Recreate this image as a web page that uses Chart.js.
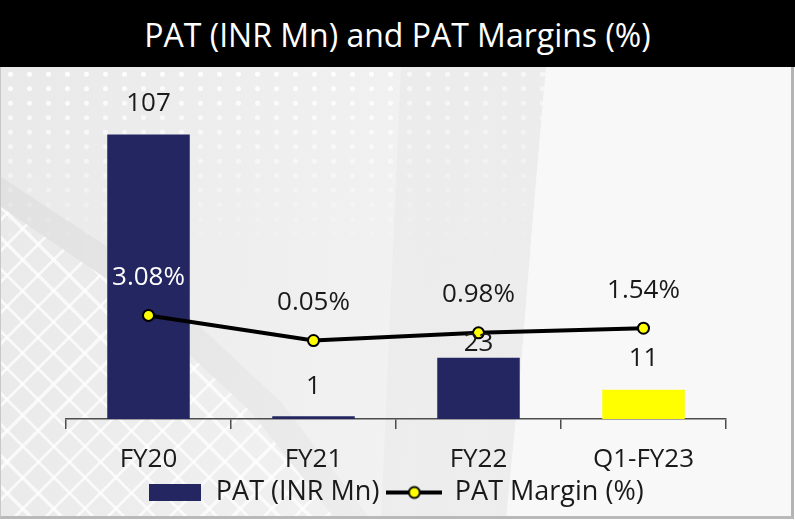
<!DOCTYPE html>
<html>
<head>
<meta charset="utf-8">
<script src="https://cdn.jsdelivr.net/npm/chart.js@4.4.1/dist/chart.umd.min.js"></script>
<style>
  html, body { margin: 0; padding: 0; background: #fff; }
  #page { position: relative; width: 795px; height: 520px; overflow: hidden; font-family: "Open Sans", sans-serif; }
  #title {
    position: absolute; left: 0; top: 0; width: 795px; height: 67px;
    background: #000; color: #fff; font-size: 32px; line-height: 70px; text-align: center;
  }
  #wrap {
    position: absolute; left: 0; top: 67px; width: 790px; height: 449px;
    border-left: 1px solid #c8c8c8; border-right: 3px solid #b4b4b4; border-bottom: 3px solid #b9b9b9;
    background: linear-gradient(100deg, #e9e9e9 0%, #efefef 35%, #f3f3f3 60%, #f7f7f7 100%);
    overflow: hidden;
  }
  .layer { position: absolute; left: 0; top: 0; width: 100%; height: 100%; }
  #dots {
    height: 200px;
    background-image: radial-gradient(circle, rgba(255,255,255,0.9) 0 2.2px, transparent 2.9px);
    background-size: 19px 14.5px;
    -webkit-mask-image: linear-gradient(to bottom, #000 0%, rgba(0,0,0,0.4) 60%, transparent 100%);
    mask-image: linear-gradient(to bottom, #000 0%, rgba(0,0,0,0.4) 60%, transparent 100%);
  }
  #shade {
    background: linear-gradient(to right, rgba(0,0,0,0) 0%, rgba(0,0,0,0.045) 100%);
    clip-path: polygon(400px 0, 545px 0, 532px 150px, 520px 300px, 505px 453px, 380px 453px);
  }
  #bright {
    background: #f8f8f8;
    clip-path: polygon(545px 0, 790px 0, 790px 453px, 505px 453px, 520px 300px, 532px 150px);
  }
  #band {
    background: linear-gradient(135deg, rgba(0,0,0,0.04), rgba(0,0,0,0.012));
    clip-path: polygon(0 110px, 130px 195px, 280px 335px, 370px 453px, 335px 453px, 250px 345px, 110px 215px, 0 140px);
  }
  #lattice {
    background-image:
      repeating-linear-gradient(45deg, transparent 0 19px, rgba(255,255,255,0.7) 19px 22px),
      repeating-linear-gradient(-45deg, transparent 0 19px, rgba(255,255,255,0.7) 19px 22px);
    clip-path: polygon(0 140px, 110px 215px, 250px 345px, 335px 453px, 0 453px);
  }
  canvas { position: absolute; left: 0; top: 0; }
</style>
</head>
<body>
<div id="page">
  <div id="title">PAT (INR Mn) and PAT Margins (%)</div>
  <div id="wrap">
    <div class="layer" id="dots"></div>
    <div class="layer" id="shade"></div>
    <div class="layer" id="bright"></div>
    <div class="layer" id="band"></div>
    <div class="layer" id="lattice"></div>
    <canvas id="patChart" width="790" height="449"></canvas>
  </div>
</div>
<script>
const periods = ['FY20', 'FY21', 'FY22', 'Q1-FY23'];
const patValues = [107, 1, 23, 11];
const marginValues = [3.08, 0.05, 0.98, 1.54];

const navy = '#232661';
const yellow = '#ffff00';
const textColor = '#1a1a1a';
const labelFont = '26px "Open Sans"';

// legend icons: filled box for bars, line with marker for the margin series
function makeBoxIcon() {
    const c = document.createElement('canvas');
    c.width = 52; c.height = 17;
    const g = c.getContext('2d');
    g.fillStyle = navy;
    g.fillRect(0, 0, 52, 17);
    return c;
}
function makeLineIcon() {
    const c = document.createElement('canvas');
    c.width = 56; c.height = 16;
    const g = c.getContext('2d');
    g.strokeStyle = '#000';
    g.lineWidth = 4;
    g.beginPath(); g.moveTo(0, 8); g.lineTo(56, 8); g.stroke();
    g.fillStyle = yellow;
    g.lineWidth = 2;
    g.beginPath(); g.arc(28, 8, 5.5, 0, Math.PI * 2); g.fill(); g.stroke();
    return c;
}
const legendIcons = [makeBoxIcon(), makeLineIcon()];

// how far above each bar top its value sits
const barLabelLift = [31, 30, 14, 31];

const valueLabels = {
    id: 'valueLabels',
    afterDatasetsDraw(chart) {
        const ctx = chart.ctx;
        ctx.save();
        ctx.font = labelFont;
        ctx.textAlign = 'center';
        ctx.textBaseline = 'middle';
        chart.getDatasetMeta(0).data.forEach((bar, i) => {
            ctx.fillStyle = textColor;
            ctx.fillText(String(patValues[i]), bar.x, bar.y - barLabelLift[i]);
        });
        chart.getDatasetMeta(1).data.forEach((pt, i) => {
            ctx.fillStyle = i === 0 ? '#ffffff' : textColor;
            ctx.fillText(marginValues[i].toFixed(2) + '%', pt.x, pt.y - 38);
        });
        ctx.restore();
    }
};

const ctx = document.getElementById('patChart').getContext('2d');
new Chart(ctx, {
    type: 'bar',
    data: {
        labels: periods,
        datasets: [{
            label: 'PAT (INR Mn)',
            data: patValues,
            backgroundColor: [navy, navy, navy, yellow],
            categoryPercentage: 1,
            barPercentage: 0.5,
            yAxisID: 'y',
            order: 1
        }, {
            type: 'line',
            label: 'PAT Margin (%)',
            data: marginValues,
            borderColor: '#000',
            borderWidth: 4,
            pointRadius: 5.5,
            pointBackgroundColor: yellow,
            pointBorderColor: '#000',
            pointBorderWidth: 2,
            tension: 0,
            yAxisID: 'y1',
            order: 0
        }]
    },
    options: {
        responsive: false,
        animation: false,
        layout: { padding: { left: 65, right: 65, top: 33, bottom: 0 } },
        scales: {
            x: {
                offset: true,
                grid: { display: true, drawOnChartArea: false, drawTicks: true, tickLength: 10, color: '#4d4d4d', lineWidth: 1.5 },
                border: { display: true, color: '#4d4d4d', width: 1.5 },
                ticks: { color: textColor, font: { family: 'Open Sans', size: 26 }, padding: 15 },
                // keep the axis band tight so the legend sits just under the labels
                afterFit: scale => { scale.height = 52; }
            },
            y: { display: false, min: 0, max: 120 },
            y1: { display: false, min: -9.41, max: 29.06 }
        },
        plugins: {
            legend: {
                position: 'bottom',
                labels: {
                    usePointStyle: true,
                    pointStyleWidth: 54,
                    padding: 8,
                    color: textColor,
                    font: { family: 'Open Sans', size: 27 },
                    generateLabels: chart => chart.data.datasets.map((ds, i) => ({
                        text: ds.label,
                        pointStyle: legendIcons[i],
                        datasetIndex: i,
                        hidden: false,
                        lineWidth: 0,
                        fontColor: textColor,
                        fillStyle: 'transparent',
                        strokeStyle: 'transparent'
                    }))
                }
            },
            tooltip: { enabled: false },
            title: { display: false }
        }
    },
    plugins: [valueLabels]
});
</script>
</body>
</html>
